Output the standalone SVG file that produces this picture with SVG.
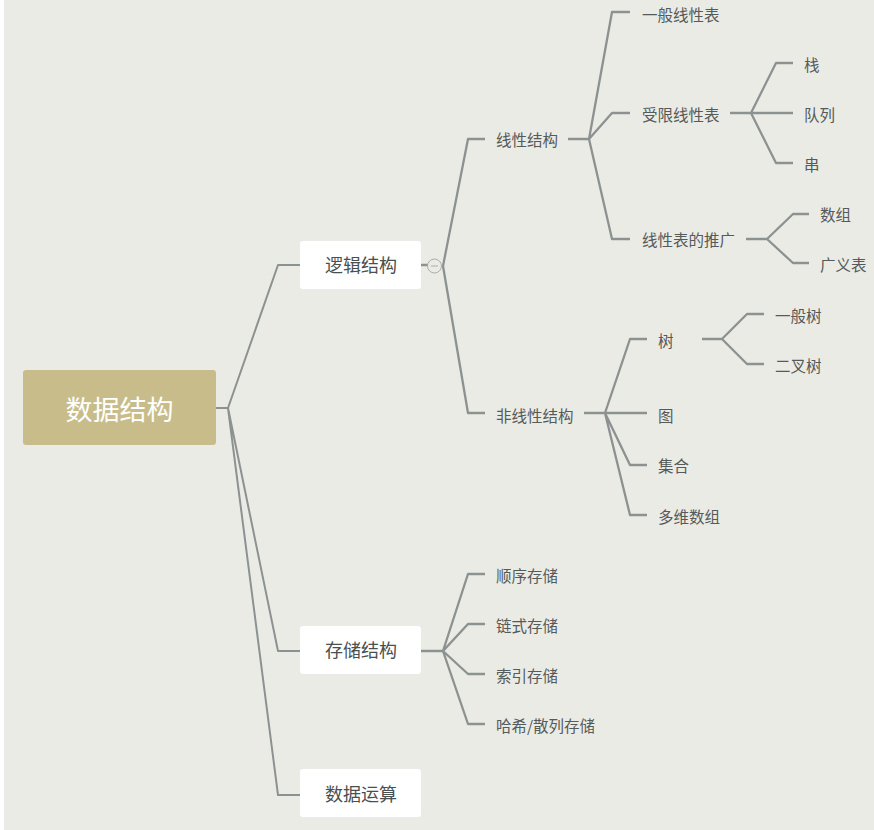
<svg xmlns="http://www.w3.org/2000/svg" width="874" height="830" viewBox="0 0 874 830">
<style>
.c{fill:none;stroke:#8c9291;stroke-width:2.3;stroke-linejoin:round}
.c0{fill:none;stroke:#8c9291;stroke-width:2;stroke-linejoin:round}
.t{font-family:"Noto Sans CJK SC","Noto Sans",sans-serif;font-size:15.5px;fill:#555a5a}
.t1{font-family:"Noto Sans CJK SC","Noto Sans",sans-serif;font-size:18px;fill:#4a4f4f;text-anchor:middle}
.box{fill:#ffffff}
</style>
<rect x="0" y="0" width="874" height="830" fill="#ffffff"/>
<rect x="4" y="0" width="870" height="830" fill="#ebebe5"/>
<g id="connectors">
<path class="c0" d="M216 408H228M228 408L278 265H300M228 408L278 651H300M228 408L278 795H300"/>
<path class="c" d="M421 265H428M443 266L468 139H485M443 266L468 413H485"/>
<path class="c" d="M568 139H589M589 139L612 12H630M589 139L612 113H630M589 139L612 239H630"/>
<path class="c" d="M730 113H751M751 113L776 63H793M751 113H793M751 113L776 163H793"/>
<path class="c" d="M746 239H767M767 239L793 214H809M767 239L793 263H809"/>
<path class="c" d="M584 413H605M605 413L630 339H647M605 413H647M605 413L630 465H647M605 413L630 515H647"/>
<path class="c" d="M702 339H722M722 339L747 314H764M722 339L747 364H764"/>
<path class="c" d="M421 651H443M443 651L468 574H485M443 651L468 624H485M443 651L468 674H485M443 651L468 724H485"/>
</g>
<g id="collapse">
<circle cx="434.5" cy="266" r="7" fill="#ebebe5" stroke="#a8acaa" stroke-width="1"/>
<line x1="431" y1="266" x2="438" y2="266" stroke="#a8acaa" stroke-width="1"/>
</g>
<g id="root">
<rect x="23" y="370" width="193" height="75" rx="3" fill="#c8bd8a"/>
<text x="119.5" y="419.5" font-family="Noto Sans CJK SC,Noto Sans,sans-serif" font-size="27" fill="#ffffff" text-anchor="middle">数据结构</text>
</g>
<g id="n-logic"><rect class="box" x="300" y="241" width="121" height="48" rx="3"/><text class="t1" x="361" y="272">逻辑结构</text></g>
<g id="n-storage"><rect class="box" x="300" y="626" width="121" height="48" rx="3"/><text class="t1" x="361" y="657">存储结构</text></g>
<g id="n-ops"><rect class="box" x="300" y="769" width="121" height="48" rx="3"/><text class="t1" x="361" y="801">数据运算</text></g>
<g id="n-linear"><text class="t" x="496" y="145.5">线性结构</text></g>
<g id="n-nonlinear"><text class="t" x="496" y="421.5">非线性结构</text></g>
<g id="n-general-list"><text class="t" x="642" y="21">一般线性表</text></g>
<g id="n-restricted"><text class="t" x="642" y="120.5">受限线性表</text></g>
<g id="n-extended"><text class="t" x="642" y="246">线性表的推广</text></g>
<g id="n-stack"><text class="t" x="804" y="71">栈</text></g>
<g id="n-queue"><text class="t" x="804" y="120.5">队列</text></g>
<g id="n-string"><text class="t" x="804" y="171">串</text></g>
<g id="n-array"><text class="t" x="820" y="221">数组</text></g>
<g id="n-glist"><text class="t" x="820" y="271">广义表</text></g>
<g id="n-tree"><text class="t" x="658" y="346.5">树</text></g>
<g id="n-graph"><text class="t" x="658" y="422">图</text></g>
<g id="n-set"><text class="t" x="658" y="472">集合</text></g>
<g id="n-mdarray"><text class="t" x="658" y="522.5">多维数组</text></g>
<g id="n-gtree"><text class="t" x="775" y="322">一般树</text></g>
<g id="n-btree"><text class="t" x="775" y="372">二叉树</text></g>
<g id="n-seq"><text class="t" x="496" y="582">顺序存储</text></g>
<g id="n-link"><text class="t" x="496" y="632">链式存储</text></g>
<g id="n-index"><text class="t" x="496" y="682">索引存储</text></g>
<g id="n-hash"><text class="t" x="496" y="732">哈希/散列存储</text></g>
</svg>
